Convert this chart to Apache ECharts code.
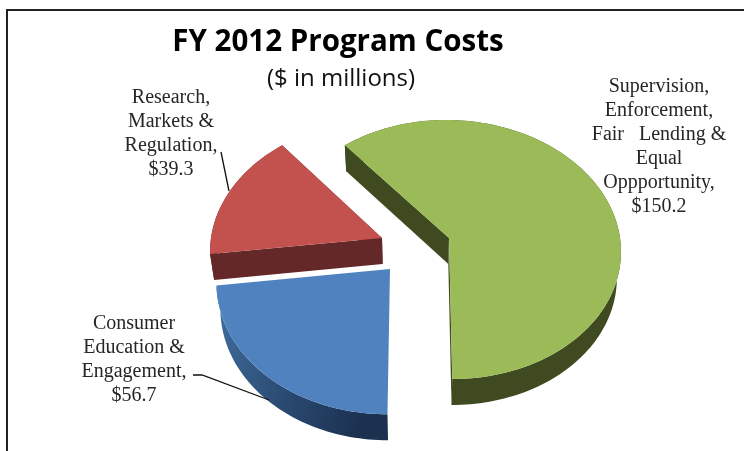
<!DOCTYPE html>
<html>
<head>
<meta charset="utf-8">
<style>html,body{margin:0;padding:0;background:#fff}#chart{width:744px;height:451px}</style>
<script src="https://cdn.jsdelivr.net/npm/echarts@6/dist/echarts.min.js"></script>
</head>
<body>
<div id="chart"></div>
<script>
// FY 2012 program costs, $ in millions
const categories = [
  'Supervision,\nEnforcement,\nFair   Lending &\nEqual\nOppportunity,',
  'Consumer\nEducation &\nEngagement,',
  'Research,\nMarkets &\nRegulation,'
];
const costs = [150.2, 56.7, 39.3];

// Perspective disc: rim points are projected around a shared vertical axis.
const START_ANGLE = -39.6;
const AXIS_X = 415;
const TILT = 0.089;
const RADIUS_X = 171;
const RADIUS_Y = 128.5;
const DEPTH = 26;
const FLOOR_SHRINK = 0.98;

const sliceLooks = [
  { apex: [449, 238], sx: 1, sy: 1, top: '#9bbb59', cut: '#404a20', rim: '#404a20', showCuts: true },
  { apex: [390, 269], sx: 1.01, sy: 1.03, top: '#5082bf', cut: '#1c3350', showCuts: false,
    rim: { type: 'linear', x: 0, y: 0, x2: 1, y2: 0.35, colorStops: [
      { offset: 0, color: '#41709f' }, { offset: 0.55, color: '#2a4a72' }, { offset: 1, color: '#1b3150' }] } },
  { apex: [382, 238], sx: 1, sy: 1, top: '#c3524f', cut: '#632827', rim: '#632827', showCuts: true }
];

const labelLooks = [
  { x: 659, y: 147 },
  { x: 134, y: 360 },
  { x: 171, y: 134 }
];

// Leader lines from the left-hand labels to their slices
const leaders = [
  null,
  [[193, 375], [202, 375], [269, 400]],
  [[221, 152], [229, 191]]
];

function project(look, theta) {
  const rad = theta * Math.PI / 180;
  const u = Math.sin(rad), v = Math.cos(rad);
  const k = 1 / (1 + TILT * v);
  return [
    AXIS_X + (look.apex[0] - AXIS_X + RADIUS_X * look.sx * u) * k,
    look.apex[1] - RADIUS_Y * look.sy * v * k
  ];
}

// The underside sits a little further from the viewer, so it narrows slightly.
function down(p) {
  return [AXIS_X + (p[0] - AXIS_X) * FLOOR_SHRINK, p[1] + DEPTH];
}

const total = costs.reduce((a, b) => a + b, 0);

function renderSlice(params, api) {
  const i = params.dataIndex;
  const look = sliceLooks[i];
  let a0 = START_ANGLE;
  for (let j = 0; j < i; j++) a0 += costs[j] / total * 360;
  const a1 = a0 + api.value(0) / total * 360;

  const arc = [];
  const steps = Math.ceil((a1 - a0) / 1.5);
  for (let s = 0; s <= steps; s++) arc.push(project(look, a0 + (a1 - a0) * s / steps));
  const apex = look.apex.slice();
  const first = arc[0], last = arc[arc.length - 1];

  const poly = (points, fill) => ({ type: 'polygon', shape: { points }, style: { fill } });
  const children = [];
  if (look.showCuts) {
    children.push(
      poly([apex, first, down(first), down(apex)], look.cut),
      poly([apex, last, down(last), down(apex)], look.cut)
    );
  }
  children.push(
    poly(arc.concat(arc.map(down).reverse()), look.rim),
    poly([apex].concat(arc), look.top)
  );
  if (leaders[i]) {
    children.push({ type: 'polyline', shape: { points: leaders[i] },
      style: { stroke: '#111', lineWidth: 1.3, fill: null } });
  }
  const lab = labelLooks[i];
  children.push({
    type: 'text', x: lab.x, y: lab.y,
    style: {
      text: categories[i] + '\n$' + api.value(0).toFixed(1),
      fill: '#262626', font: '20px "Liberation Serif"',
      lineHeight: 24, align: 'center', verticalAlign: 'middle'
    }
  });
  return { type: 'group', children };
}

const chart = echarts.init(document.getElementById('chart'));
chart.setOption({
  animation: false,
  backgroundColor: '#ffffff',
  title: [
    { text: 'FY 2012 Program Costs', left: 333, top: 23, textAlign: 'center',
      textStyle: { fontFamily: 'Open Sans', fontWeight: 'bold', fontSize: 29.5, color: '#000' } },
    { text: '($ in millions)', left: 336, top: 62, textAlign: 'center',
      textStyle: { fontFamily: 'Open Sans', fontWeight: 'normal', fontSize: 24, color: '#111' } }
  ],
  graphic: [
    { type: 'polyline', silent: true, shape: { points: [[7, 451], [7, 10], [744, 10]] },
      style: { stroke: '#222', lineWidth: 2, fill: null } }
  ],
  series: [{
    type: 'custom',
    coordinateSystem: 'none',
    renderItem: renderSlice,
    data: costs.map(v => [v])
  }]
});
</script>
</body>
</html>
